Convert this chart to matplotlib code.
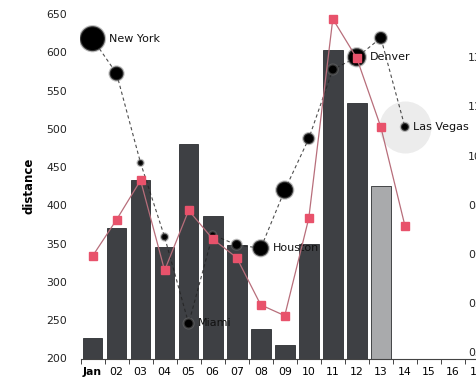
import numpy as np
import matplotlib
matplotlib.use('Agg')
import matplotlib.pyplot as plt

# data (days of January)
days = np.arange(1, 15)
distance = [227, 371, 433, 345, 480, 386, 348, 238, 218, 349, 603, 534, 425]
duration = [408, 482, 562, 379, 501, 443, 405, 309, 287, 485, 890, 810, 670, 470]   # minutes
latitude = [40.71, 38.89, 34.22, 30.35, 25.83, 30.46, 29.94, 29.76, 32.8, 35.49, 39.1, 39.74, 40.75, 36.1]
town_size = [25, 14, 6, 7, 10, 7, 10, 16, 17, 11, 10, 18, 12, 8]
town_label = ['New York', '', '', '', 'Miami', '', '', 'Houston', '', '', '', 'Denver', '', 'Las Vegas']
x_labels = ['Jan'] + ['%02d' % d for d in range(2, 18)]
dur_ticks = [200, 300, 400, 500, 600, 700, 800]

W, H = 476, 378
fig = plt.figure(figsize=(W / 100, H / 100), dpi=100)
rect = [80.5 / W, 19.5 / H, (489 - 80.5) / W, (358.5 - 14) / H]
ax = fig.add_axes(rect)
fs = 7.8

# bars (distance)
bar_cols = ['#3e4044'] * 12 + ['#a9aaac']
ax.bar(days[:len(distance)], distance, width=0.82, color=bar_cols, edgecolor='#2c2e31', linewidth=0.6, zorder=2)
ax.set_xlim(0.5, 17.5)
ax.set_ylim(200, 650)
ax.set_yticks(range(200, 651, 50))
ax.tick_params(axis='y', length=0, pad=9.5, labelsize=fs, colors='#222')
ax.set_ylabel('distance', fontsize=8.5, fontweight='bold', labelpad=8)
ax.set_xticks(np.arange(0.5, 18, 1))
ax.set_xticklabels([])
ax.tick_params(axis='x', which='major', length=3.5, width=0.7, color='#444')
ax.set_xticks(np.arange(1, 18), minor=True)
ax.set_xticklabels(x_labels, minor=True, fontsize=fs)
ax.tick_params(axis='x', which='minor', length=0, pad=6)
ax.get_xticklabels(minor=True)[0].set_fontweight('bold')
for s in ['top', 'left', 'right']:
    ax.spines[s].set_visible(False)
ax.spines['bottom'].set_color('#444')
ax.spines['bottom'].set_linewidth(0.8)

# bubbles (latitude, hidden axis)
ax3 = ax.twinx()
ax3.set_ylim(24, 42)
ax3.axis('off')
ax3.plot(days, latitude, color='#222', lw=0.8, ls=(0, (3, 2.5)), alpha=0.8, zorder=1)
sz = (np.array(town_size) * 0.72) ** 2
ax3.scatter(days[-1], latitude[-1], s=(52 * 0.72) ** 2, color='#e4e4e4', alpha=0.7, lw=0, zorder=0)
ax3.scatter(days, latitude, s=sz, color='black', edgecolors=(0.45, 0.45, 0.45, 0.45), linewidths=1.6, zorder=2)
for d, lat, ts, name in zip(days, latitude, town_size, town_label):
    if name:
        ax3.annotate(name, (d, lat), xytext=(ts / 2 * 0.72 + 3, 0), textcoords='offset points',
                     va='center', ha='left', fontsize=8, color='#111', zorder=3)

# squares (duration, right axis)
ax2 = ax.twinx()
ax2.set_ylim(200, 900)
ax2.plot(days, duration, color='#b86e7b', lw=0.9, zorder=1)
ax2.plot(days, duration, ls='none', marker='s', ms=6, color='#e8526b', zorder=2)
ax2.set_yticks(dur_ticks)
ax2.set_yticklabels(['%02d:%02d' % (m // 60, m % 60) for m in dur_ticks])
ax2.tick_params(axis='y', length=0, pad=-15, labelsize=fs, colors='#222')
for l in ax2.get_yticklabels():
    l.set_va('bottom')
for s in ax2.spines.values():
    s.set_visible(False)

fig.savefig('out.png', dpi=100)
